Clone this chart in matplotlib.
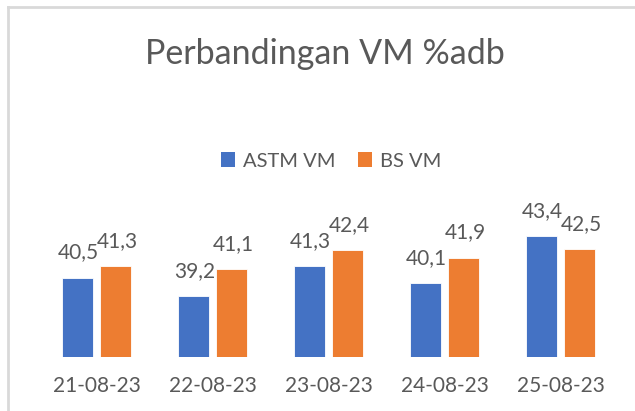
import matplotlib
matplotlib.use("Agg")
import matplotlib.pyplot as plt
import numpy as np
from matplotlib.patches import Patch
from matplotlib.lines import Line2D

categories = ["21-08-23", "22-08-23", "23-08-23", "24-08-23", "25-08-23"]
astm_vm = [40.5, 39.2, 41.3, 40.1, 43.4]
bs_vm = [41.3, 41.1, 42.4, 41.9, 42.5]
labels_astm = ["40,5", "39,2", "41,3", "40,1", "43,4"]
labels_bs = ["41,3", "41,1", "42,4", "41,9", "42,5"]

plt.rcParams['font.family'] = ['Lato', 'DejaVu Sans']
txt = '#595959'
blue = '#4472C4'
orange = '#ED7D31'

W, H = 635, 411
fig = plt.figure(figsize=(W/100, H/100), dpi=100)

ax = fig.add_axes([38.5/W, (H-356.7)/H, 580/W, 143.6/H])
x = np.arange(len(categories))
bw = 0.264
off = 0.166
ymin = 35
ax.bar(x - off, np.array(astm_vm) - ymin, bw, bottom=ymin, color=blue, edgecolor='white', linewidth=0.6)
ax.bar(x + off, np.array(bs_vm) - ymin, bw, bottom=ymin, color=orange, edgecolor='white', linewidth=0.6)
ax.set_ylim(35, 45)
ax.set_xlim(-0.5, 4.5)
for i in range(len(categories)):
    ax.annotate(labels_astm[i], (x[i] - off, astm_vm[i]), xytext=(1, 11), textcoords='offset points',
                ha='center', va='bottom', fontsize=15, color=txt)
    ax.annotate(labels_bs[i], (x[i] + off, bs_vm[i]), xytext=(1, 11), textcoords='offset points',
                ha='center', va='bottom', fontsize=15, color=txt)
ax.set_xticks(x)
ax.set_xticklabels(categories, fontsize=15, color=txt)
ax.tick_params(axis='x', length=0, pad=14)
ax.set_yticks([])
for s in ax.spines.values():
    s.set_visible(False)
ax.patch.set_alpha(0)

fig.text(0.512, 1 - 54/H, "Perbandingan VM %adb", ha='center', va='center', fontsize=24.5, color=txt)

handles = [Patch(facecolor=blue), Patch(facecolor=orange)]
fig.legend(handles, ["ASTM VM", "BS VM"], loc='center', bbox_to_anchor=(331/W, 1 - 161/H),
           ncol=2, frameon=False, fontsize=14.5, labelcolor=txt, handlelength=0.7, handleheight=0.7,
           handletextpad=0.4, columnspacing=1.1)

# chart border (top and left visible)
fig.add_artist(Line2D([8/W, 8/W], [0, 1 - 7/H], color='#d9d9d9', lw=2, transform=fig.transFigure))
fig.add_artist(Line2D([8/W, 1], [1 - 7/H, 1 - 7/H], color='#d9d9d9', lw=2, transform=fig.transFigure))

fig.savefig("out.png", dpi=100)
